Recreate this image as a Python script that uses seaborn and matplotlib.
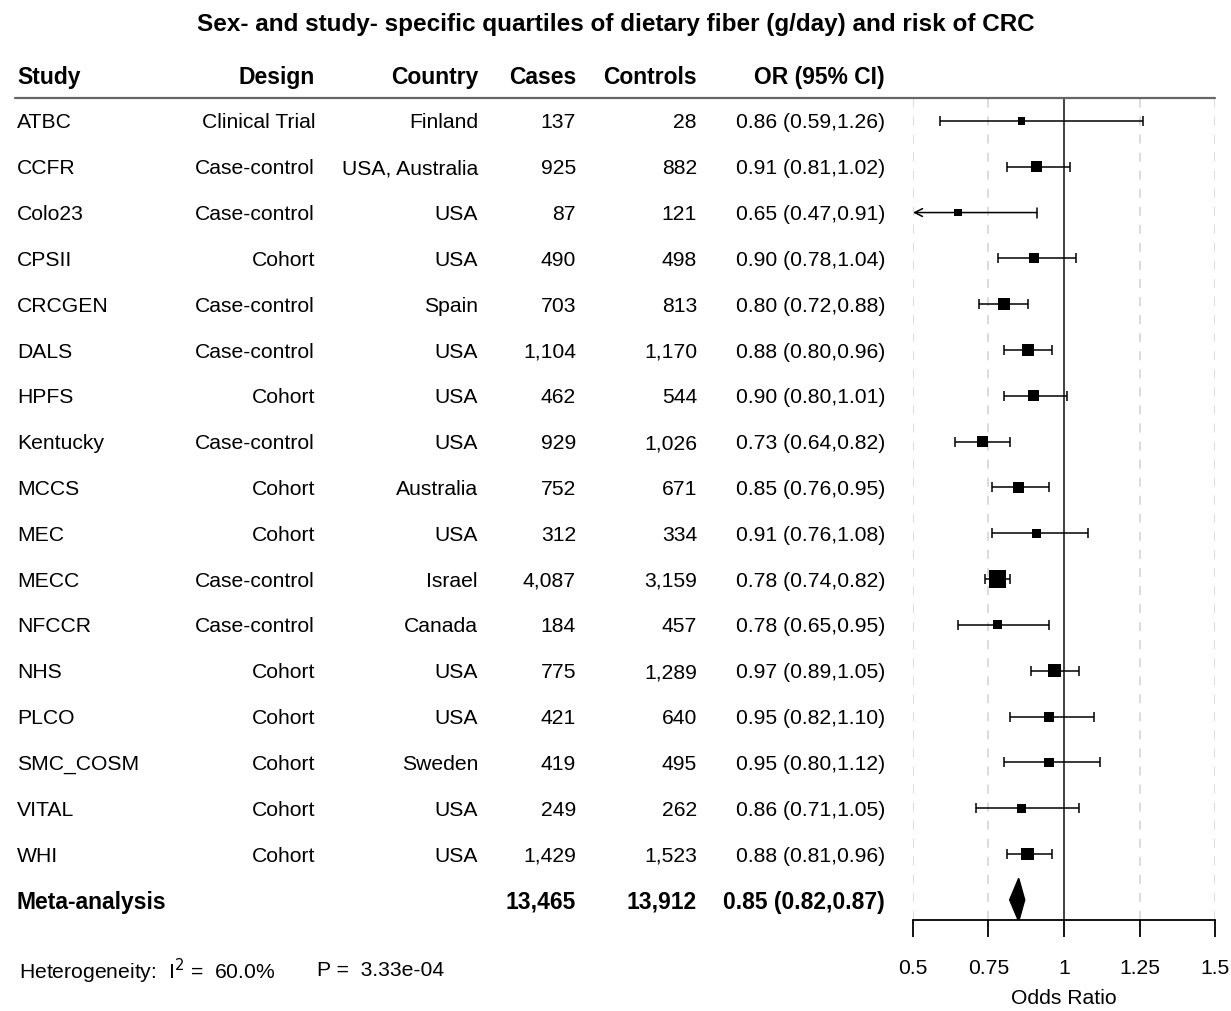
import numpy as np
import pandas as pd
import seaborn as sns
import matplotlib.pyplot as plt
from matplotlib.transforms import blended_transform_factory

# Study-level data
study = ['ATBC', 'CCFR', 'Colo23', 'CPSII', 'CRCGEN', 'DALS', 'HPFS', 'Kentucky', 'MCCS',
         'MEC', 'MECC', 'NFCCR', 'NHS', 'PLCO', 'SMC_COSM', 'VITAL', 'WHI']
design = ['Clinical Trial', 'Case-control', 'Case-control', 'Cohort', 'Case-control',
          'Case-control', 'Cohort', 'Case-control', 'Cohort', 'Cohort', 'Case-control',
          'Case-control', 'Cohort', 'Cohort', 'Cohort', 'Cohort', 'Cohort']
country = ['Finland', 'USA, Australia', 'USA', 'USA', 'Spain', 'USA', 'USA', 'USA', 'Australia',
           'USA', 'Israel', 'Canada', 'USA', 'USA', 'Sweden', 'USA', 'USA']
cases = [137, 925, 87, 490, 703, 1104, 462, 929, 752, 312, 4087, 184, 775, 421, 419, 249, 1429]
controls = [28, 882, 121, 498, 813, 1170, 544, 1026, 671, 334, 3159, 457, 1289, 640, 495, 262, 1523]
odds = [0.86, 0.91, 0.65, 0.90, 0.80, 0.88, 0.90, 0.73, 0.85, 0.91, 0.78, 0.78, 0.97, 0.95, 0.95, 0.86, 0.88]
lower = [0.59, 0.81, 0.47, 0.78, 0.72, 0.80, 0.80, 0.64, 0.76, 0.76, 0.74, 0.65, 0.89, 0.82, 0.80, 0.71, 0.81]
upper = [1.26, 1.02, 0.91, 1.04, 0.88, 0.96, 1.01, 0.82, 0.95, 1.08, 0.82, 0.95, 1.05, 1.10, 1.12, 1.05, 0.96]

meta_cases, meta_controls = 13465, 13912
meta_or, meta_lo, meta_hi = 0.85, 0.82, 0.87
i2, p_het = 60.0, 3.33e-4

xticks = [0.5, 0.75, 1, 1.25, 1.5]
xticklabels = ['0.5', '0.75', '1', '1.25', '1.5']

df = pd.DataFrame({'study': study, 'design': design, 'country': country, 'cases': cases,
                   'controls': controls, 'OR': odds, 'lo': lower, 'hi': upper})
df['row'] = np.arange(len(df))
# box size from precision (1/se of log OR)
se = (np.log(df['hi']) - np.log(df['lo'])) / (2 * 1.96)
side_pt = (6 + 0.3 / se) * 0.72
df['area'] = side_pt ** 2
meta_row = len(df)

sns.set_style('white')
plt.rcParams['font.family'] = ['Liberation Sans', 'DejaVu Sans']
plt.rcParams['text.color'] = 'black'
plt.rcParams['xtick.color'] = 'black'
plt.rcParams['axes.labelcolor'] = 'black'
FS = 15.2
FS_B = 16.5

W, H = 1231, 1011
fig = plt.figure(figsize=(W / 100, H / 100), dpi=100)
ax = fig.add_axes([913 / W, 1 - 920 / H, (1215 - 913) / W, (920 - 98) / H])
ax.set_xlim(0.5, 1.5)
ax.set_ylim(meta_row + 0.44, -0.5)

# grid and reference line
for v in xticks:
    if v != 1:
        ax.axvline(v, color='#d9d9d9', lw=1.3, ls=(0, (5, 5)), zorder=0)
ax.axvline(1, color='#333333', lw=1.3, zorder=1)

# confidence intervals
for _, r in df.iterrows():
    y = r['row']
    if r['lo'] < 0.5:
        ax.annotate('', xy=(0.5, y), xytext=(r['hi'], y),
                    arrowprops=dict(arrowstyle='->', color='black', lw=1.1,
                                    mutation_scale=14, shrinkA=0, shrinkB=0))
        ax.plot([r['hi']] * 2, [y - 0.11, y + 0.11], color='black', lw=1.1)
    else:
        ax.errorbar(r['OR'], y, xerr=[[r['OR'] - r['lo']], [r['hi'] - r['OR']]],
                    fmt='none', ecolor='black', elinewidth=1.1, capsize=3.6, capthick=1.1)

sns.scatterplot(data=df, x='OR', y='row', size='area',
                sizes=(df['area'].min(), df['area'].max()),
                marker='s', color='black', linewidth=0, legend=False, ax=ax, zorder=3)

# summary diamond
dh = 0.47
ax.fill([meta_lo, meta_or, meta_hi, meta_or], [meta_row, meta_row - dh, meta_row, meta_row + dh],
        color='black', zorder=3)

# axes styling
for s in ['top', 'left', 'right']:
    ax.spines[s].set_visible(False)
ax.spines['bottom'].set_color('black')
ax.spines['bottom'].set_linewidth(1.3)
ax.set_yticks([])
ax.set_xticks(xticks)
ax.set_xticklabels(xticklabels, fontsize=FS)
ax.tick_params(axis='x', direction='out', length=12, width=1.3, pad=16, bottom=True)
ax.set_xlabel('Odds Ratio', fontsize=FS, labelpad=8)
ax.set_ylabel('')

# table text
tr = blended_transform_factory(fig.transFigure, ax.transData)
cols = [(17, 'left', 'Study'), (315, 'right', 'Design'), (478, 'right', 'Country'),
        (576, 'right', 'Cases'), (697, 'right', 'Controls'), (885, 'right', 'OR (95% CI)')]
for x, ha, lab in cols:
    ax.text(x / W, -1.0, lab, transform=tr, ha=ha, va='center_baseline', fontsize=FS_B,
            fontweight='bold', clip_on=False)

ax.plot([15 / W, 1215 / W], [-0.5, -0.5], transform=tr, color='#666666', lw=1.6, clip_on=False)

for _, r in df.iterrows():
    vals = [r['study'], r['design'], r['country'], f"{r['cases']:,}", f"{r['controls']:,}",
            f"{r['OR']:.2f} ({r['lo']:.2f},{r['hi']:.2f})"]
    for (x, ha, _), v in zip(cols, vals):
        ax.text(x / W, r['row'], v, transform=tr, ha=ha, va='center_baseline', fontsize=FS,
                clip_on=False)

meta_vals = ['Meta-analysis', '', '', f'{meta_cases:,}', f'{meta_controls:,}',
             f'{meta_or:.2f} ({meta_lo:.2f},{meta_hi:.2f})']
for (x, ha, _), v in zip(cols, meta_vals):
    ax.text(x / W, meta_row, v, transform=tr, ha=ha, va='center_baseline', fontsize=FS_B,
            fontweight='bold', clip_on=False)

fig.text(19 / W, 1 - 968 / H, f'Heterogeneity:  I$^2$ =  {i2:.1f}%', ha='left',
         va='center_baseline', fontsize=FS)
fig.text(317 / W, 1 - 968 / H, f'P =  {p_het:.2e}', ha='left', va='center_baseline', fontsize=FS)

fig.suptitle('Sex- and study- specific quartiles of dietary fiber (g/day) and risk of CRC',
             x=0.5, y=1 - 22 / H, va='center_baseline', fontsize=17.5, fontweight='bold')

fig.savefig('out.png', dpi=100)
